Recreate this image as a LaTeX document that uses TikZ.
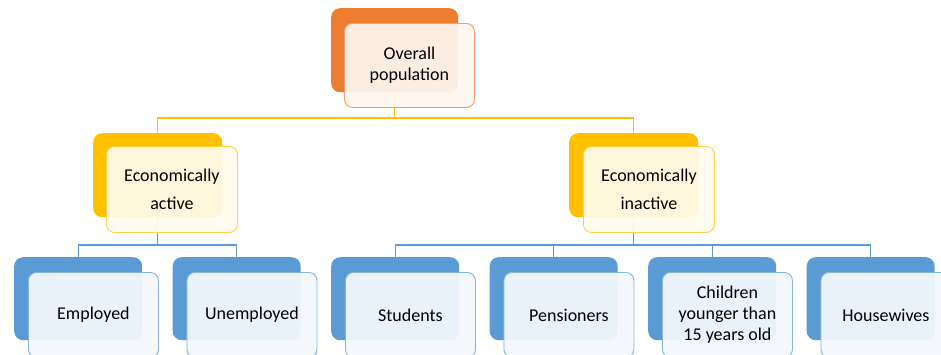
\documentclass[tikz,border=0pt]{standalone}
\usepackage{fontspec}
\setmainfont{Carlito}
\definecolor{orgC}{HTML}{ED7D31}
\definecolor{yelC}{HTML}{FFC000}
\definecolor{bluC}{HTML}{5B9BD5}
\tikzset{
  backbox/.style={draw=none, fill=#1, rounded corners=9pt, minimum width=128pt, minimum height=84pt, anchor=north west, inner sep=0pt},
  frontbox/.style={draw=#1!75!white, line width=0.9pt, fill=#1!7!white, fill opacity=0.93, text opacity=1, rounded corners=8pt, minimum width=130pt, minimum height=85pt, anchor=north west, align=center, inner sep=2pt, font=\fontsize{18}{21}\selectfont},
  conn/.style={draw=#1, line width=1.3pt},
}
\begin{document}
\begin{tikzpicture}[x=1pt,y=-1pt]
\useasboundingbox (0,0) rectangle (941,354);
\clip (0,0) rectangle (941,354);
\fill[white] (0,0) rectangle (941,354);
% back boxes
\node[backbox=orgC, minimum width=127pt] (top) at (331,8) {};
\node[backbox=yelC, minimum width=129pt] (ea) at (93,133) {};
\node[backbox=yelC, minimum width=129pt] (ei) at (569,133) {};
\foreach \i/\x in {1/14,2/172.5,3/331,4/489.5,5/648,6/806.5}{
  \node[backbox=bluC, minimum height=83pt] (b\i) at (\x,257) {};
}
% connectors
\coordinate (bus1) at (395,118);
\coordinate (bus2) at (0,245);
\draw[conn=yelC] (top.south) -- (top.south |- bus1);
\draw[conn=yelC] (ea.north) |- (top.south |- bus1) -| (ei.north);
\draw[conn=bluC] (ea.south) -- (ea.south |- bus2);
\draw[conn=bluC] (b1.north) |- (ea.south |- bus2) -| (b2.north);
\draw[conn=bluC] (ei.south) -- (ei.south |- bus2);
\draw[conn=bluC] (b3.north) |- (b6.north |- bus2) -- (b6.north);
\draw[conn=bluC] (b4.north) -- (b4.north |- bus2);
\draw[conn=bluC] (b5.north) -- (b5.north |- bus2);
% front boxes
\node[frontbox=orgC, minimum height=84pt] (topf) at (344,23) {Overall\\population};
\node[frontbox=yelC, minimum width=131pt, minimum height=86pt] (eaf) at (106,146) {Economically\\[7pt]active};
\node[frontbox=yelC, minimum width=131pt, minimum height=86pt] (eif) at (583,146) {Economically\\[7pt]inactive};
\node[frontbox=bluC] (f1) at (28,272) {Employed};
\node[frontbox=bluC] (f2) at (186.5,272) {Unemployed};
\node[frontbox=bluC] (f3) at (345,272) {Students};
\node[frontbox=bluC] (f4) at (503.5,272) {Pensioners};
\node[frontbox=bluC] (f5) at (662,272) {Children\\younger than\\15 years old};
\node[frontbox=bluC] (f6) at (820.5,272) {Housewives};
\end{tikzpicture}
\end{document}
